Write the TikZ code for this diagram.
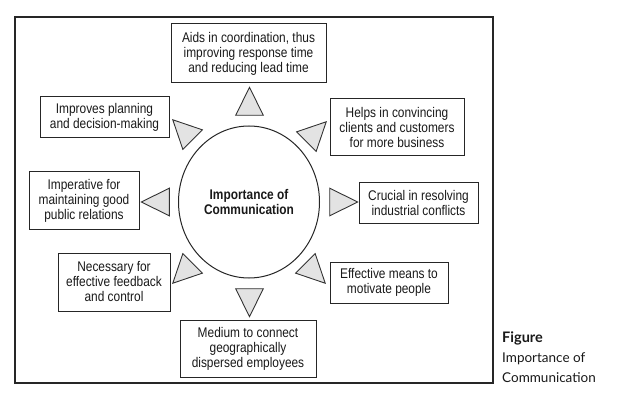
\documentclass[tikz,border=0pt]{standalone}
\usepackage{fontspec}
\usetikzlibrary{shapes.geometric}
\setmainfont{Liberation Sans}[FakeStretch=0.85]
\newfontfamily\capfont{Lato}
\begin{document}
\begin{tikzpicture}[x=1pt,y=-1pt,
  box/.style={draw=black!85, line width=1pt, align=center, inner sep=0pt,
    font=\fontsize{14}{15}\selectfont, text=black!90},
  tri/.style={draw=black!80, line width=0.9pt, fill=gray!22, line join=miter}]
\useasboundingbox (0,0) rectangle (642,406);
% frame
\draw[line width=1.2pt, black!85] (15,17) rectangle (493,383);
% centre
\node[draw=black!85, line width=1pt, ellipse, minimum width=141pt, minimum height=152pt, inner sep=0pt,
  align=center, font=\bfseries\fontsize{14}{15}\selectfont, text=black!90] (c) at (249,202) {Importance of\\Communication};
% boxes
\node[box, minimum width=155pt, minimum height=59pt] (t) at (248.5,53.5) {Aids in coordination, thus\\improving response time\\and reducing lead time};
\node[box, minimum width=129pt, minimum height=41pt] (tl) at (104.5,117.5) {Improves planning\\and decision-making};
\node[box, minimum width=134pt, minimum height=57pt] (tr) at (397,127.5) {Helps in convincing\\clients and customers\\for more business};
\node[box, minimum width=110pt, minimum height=57pt] (l) at (84,200.5) {Imperative for\\maintaining good\\public relations};
\node[box, minimum width=119pt, minimum height=40pt] (r) at (418.5,203) {Crucial in resolving\\industrial conflicts};
\node[box, minimum width=112pt, minimum height=58pt] (bl) at (114,282) {Necessary for\\effective feedback\\and control};
\node[box, minimum width=118pt, minimum height=41pt] (br) at (389,282.5) {Effective means to\\motivate people};
\node[box, minimum width=136pt, minimum height=57pt] (b) at (248,348.5) {Medium to connect\\geographically\\dispersed employees};
% triangles
\foreach \cx/\cy/\a in {249.5/106/90, 339/202/0, 160/202/180, 249.5/298/270,
    186/133/135, 313/135/45, 186/270/225, 312/270/315}{
  \begin{scope}[shift={(\cx,\cy)}, rotate=\a]
    \draw[tri] (18.7,0) -- (-9.3,13.8) -- (-9.3,-13.8) -- cycle;
  \end{scope}
}
% caption
\node[anchor=west, inner sep=0pt, align=left, font=\capfont\fontsize{13.5}{20}\selectfont, text=black!90] (cap) at (502,357)
  {{\bfseries\fontsize{14.5}{20}\selectfont Figure}\\Importance of\\Communication};
\end{tikzpicture}
\end{document}
